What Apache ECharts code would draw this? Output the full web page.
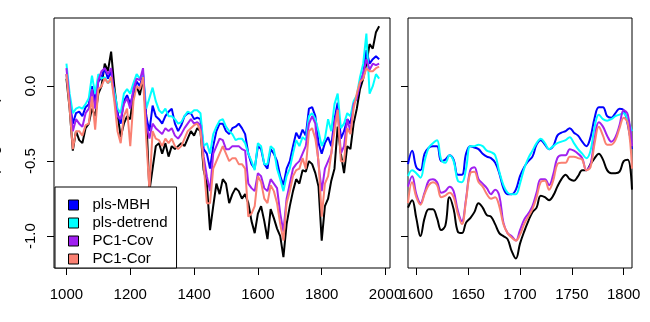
<!DOCTYPE html>
<html>
<head>
<meta charset="utf-8">
<script src="https://cdn.jsdelivr.net/npm/echarts@6/dist/echarts.min.js"></script>
<style>
  html, body { margin: 0; padding: 0; background: #fff; }
  #chart { width: 650px; height: 322px; }
</style>
</head>
<body>
<div id="chart"></div>
<script>
// ---- Full reconstruction period (decadal values, deg C) ----
const leftYears = [1000,1010,1020,1030,1040,1050,1060,1070,1080,1090,
  1100,1110,1120,1130,1140,1150,1160,1170,1180,1190,
  1200,1210,1220,1230,1240,1250,1260,1270,1280,1290,
  1300,1310,1320,1330,1340,1350,1360,1370,1380,1390,
  1400,1410,1420,1430,1440,1450,1460,1470,1480,1490,
  1500,1510,1520,1530,1540,1550,1560,1570,1580,1590,
  1600,1610,1620,1630,1640,1650,1660,1670,1680,1690,
  1700,1710,1720,1730,1740,1750,1760,1770,1780,1790,
  1800,1810,1820,1830,1840,1850,1860,1870,1880,1890,
  1900,1910,1920,1930,1940,1950,1960,1970,1980];

const leftObs = [0.05,-0.15,-0.43,-0.30,-0.36,-0.38,-0.28,-0.25,-0.15,-0.20,
  -0.05,0.00,0.15,0.10,0.23,0.00,-0.18,-0.34,-0.25,-0.20,
  -0.22,-0.05,0.00,-0.06,0.05,-0.20,-0.70,-0.55,-0.40,-0.38,
  -0.45,-0.38,-0.47,-0.40,-0.42,-0.40,-0.38,-0.40,-0.35,-0.30,
  -0.33,-0.28,-0.30,-0.56,-0.65,-0.96,-0.80,-0.65,-0.72,-0.62,
  -0.65,-0.78,-0.72,-0.68,-0.70,-0.75,-0.72,-0.78,-0.90,-0.98,
  -0.85,-0.80,-0.90,-1.02,-0.82,-0.88,-0.95,-1.00,-1.14,-0.92,
  -0.80,-0.70,-0.62,-0.65,-0.56,-0.57,-0.50,-0.52,-0.58,-0.67,
  -1.03,-0.80,-0.75,-0.63,-0.55,-0.27,-0.45,-0.58,-0.40,-0.42,
  -0.25,-0.15,-0.02,0.05,0.15,0.28,0.25,0.36,0.40];

const leftMBH = [0.08,-0.10,-0.25,-0.18,-0.17,-0.20,-0.14,-0.12,0.00,-0.10,
  0.03,0.06,0.12,0.05,0.10,-0.06,-0.18,-0.25,-0.10,-0.06,
  -0.12,-0.04,0.03,0.00,0.08,-0.20,-0.30,-0.13,-0.20,-0.22,
  -0.25,-0.20,-0.17,-0.15,-0.25,-0.30,-0.26,-0.20,-0.18,-0.18,
  -0.22,-0.21,-0.22,-0.42,-0.45,-0.55,-0.40,-0.30,-0.25,-0.25,
  -0.30,-0.32,-0.28,-0.27,-0.25,-0.28,-0.32,-0.45,-0.52,-0.55,
  -0.40,-0.42,-0.52,-0.55,-0.42,-0.45,-0.50,-0.60,-0.66,-0.55,
  -0.50,-0.40,-0.31,-0.35,-0.29,-0.33,-0.15,-0.14,-0.20,-0.38,
  -0.45,-0.38,-0.34,-0.40,-0.22,-0.11,-0.35,-0.30,-0.22,-0.25,
  -0.12,-0.08,0.02,0.08,0.24,0.15,0.18,0.20,0.18];

const leftDetrend = [0.15,-0.05,-0.18,-0.15,-0.14,-0.15,-0.12,-0.08,0.07,-0.05,
  0.08,0.05,0.06,0.02,0.04,-0.03,-0.15,-0.18,-0.05,-0.02,
  -0.05,0.02,0.08,0.05,0.09,-0.15,-0.08,-0.01,-0.10,-0.16,
  -0.18,-0.15,-0.20,-0.20,-0.22,-0.25,-0.24,-0.20,-0.17,-0.18,
  -0.16,-0.16,-0.18,-0.40,-0.38,-0.45,-0.32,-0.27,-0.23,-0.22,
  -0.27,-0.30,-0.32,-0.36,-0.35,-0.35,-0.38,-0.45,-0.50,-0.56,
  -0.38,-0.40,-0.52,-0.52,-0.40,-0.42,-0.55,-0.62,-0.70,-0.60,
  -0.55,-0.45,-0.36,-0.40,-0.34,-0.36,-0.20,-0.18,-0.22,-0.30,
  -0.40,-0.35,-0.22,-0.30,-0.12,-0.05,-0.28,-0.25,-0.18,-0.20,
  -0.10,-0.06,0.06,0.15,0.35,-0.05,0.00,0.08,0.05];

const leftPC1Cov = [0.12,-0.10,-0.30,-0.22,-0.25,-0.27,-0.18,-0.15,-0.02,-0.15,
  0.04,0.10,0.12,0.08,0.12,-0.08,-0.20,-0.22,-0.12,-0.08,
  -0.15,-0.02,0.05,0.04,0.12,-0.25,-0.35,-0.25,-0.28,-0.30,
  -0.32,-0.28,-0.30,-0.28,-0.33,-0.35,-0.32,-0.28,-0.25,-0.22,
  -0.25,-0.24,-0.26,-0.47,-0.60,-0.70,-0.45,-0.40,-0.35,-0.36,
  -0.42,-0.42,-0.40,-0.40,-0.40,-0.42,-0.43,-0.65,-0.68,-0.70,
  -0.58,-0.60,-0.68,-0.70,-0.62,-0.65,-0.68,-0.85,-0.97,-0.75,
  -0.65,-0.55,-0.52,-0.50,-0.45,-0.40,-0.25,-0.20,-0.25,-0.52,
  -0.70,-0.55,-0.50,-0.45,-0.25,-0.15,-0.45,-0.40,-0.22,-0.30,
  -0.12,-0.08,0.02,0.08,0.18,0.11,0.15,0.14,0.15];

const leftPC1Cor = [0.08,-0.15,-0.42,-0.30,-0.30,-0.33,-0.26,-0.25,-0.07,-0.29,
  -0.02,0.00,0.05,0.02,0.06,-0.10,-0.30,-0.38,-0.20,-0.15,
  -0.40,-0.10,0.00,-0.02,0.06,-0.35,-0.69,-0.30,-0.35,-0.36,
  -0.40,-0.35,-0.38,-0.35,-0.40,-0.42,-0.40,-0.35,-0.30,-0.28,
  -0.26,-0.25,-0.30,-0.52,-0.78,-0.78,-0.55,-0.50,-0.45,-0.40,
  -0.45,-0.50,-0.48,-0.48,-0.52,-0.52,-0.55,-0.87,-0.85,-0.80,
  -0.60,-0.64,-0.75,-0.78,-0.66,-0.70,-0.78,-0.92,-1.03,-0.78,
  -0.70,-0.60,-0.56,-0.55,-0.48,-0.55,-0.30,-0.28,-0.35,-0.50,
  -0.87,-0.65,-0.60,-0.45,-0.30,-0.16,-0.50,-0.50,-0.28,-0.32,
  -0.15,-0.05,0.03,0.05,0.12,0.10,0.10,0.12,0.13];

// ---- 1600-1800 detail (smoothed, 4-year spacing) ----
const rightYears = [1592,1596,1600,1604,1608,1612,1616,1620,1624,1628,
  1632,1636,1640,1644,1648,1652,1656,1660,1664,1668,
  1672,1676,1680,1684,1688,1692,1696,1700,1704,1708,
  1712,1716,1720,1724,1728,1732,1736,1740,1744,1748,
  1752,1756,1760,1764,1768,1772,1776,1780,1784,1788,
  1792,1796,1800,1804,1808];

const rightObs = [-0.81,-0.76,-0.88,-1.00,-0.88,-0.82,-0.82,-0.88,-0.96,-0.93,
  -0.74,-0.82,-0.97,-0.98,-0.91,-0.88,-0.84,-0.78,-0.81,-0.86,
  -0.87,-0.92,-0.98,-1.00,-1.02,-1.10,-1.15,-1.05,-0.97,-0.90,
  -0.84,-0.81,-0.73,-0.74,-0.76,-0.73,-0.67,-0.62,-0.59,-0.62,
  -0.63,-0.60,-0.56,-0.56,-0.52,-0.48,-0.45,-0.49,-0.56,-0.58,
  -0.58,-0.57,-0.50,-0.49,-0.69];

const rightMBH = [-0.52,-0.43,-0.54,-0.56,-0.45,-0.41,-0.40,-0.40,-0.50,-0.49,
  -0.46,-0.49,-0.59,-0.59,-0.45,-0.40,-0.41,-0.42,-0.45,-0.47,
  -0.48,-0.51,-0.58,-0.68,-0.72,-0.72,-0.69,-0.60,-0.54,-0.50,
  -0.47,-0.39,-0.36,-0.39,-0.42,-0.40,-0.33,-0.31,-0.30,-0.28,
  -0.31,-0.33,-0.37,-0.40,-0.34,-0.21,-0.14,-0.14,-0.20,-0.21,
  -0.18,-0.15,-0.16,-0.26,-0.42];

const rightDetrend = [-0.60,-0.56,-0.58,-0.61,-0.50,-0.41,-0.38,-0.36,-0.49,-0.51,
  -0.46,-0.50,-0.63,-0.64,-0.55,-0.40,-0.40,-0.39,-0.40,-0.43,
  -0.44,-0.46,-0.57,-0.66,-0.71,-0.72,-0.72,-0.65,-0.55,-0.48,
  -0.43,-0.38,-0.35,-0.38,-0.42,-0.40,-0.38,-0.37,-0.36,-0.34,
  -0.38,-0.42,-0.45,-0.48,-0.43,-0.27,-0.19,-0.22,-0.23,-0.22,
  -0.20,-0.19,-0.18,-0.23,-0.30];

const rightPC1Cov = [-0.67,-0.60,-0.72,-0.78,-0.71,-0.63,-0.62,-0.64,-0.71,-0.70,
  -0.67,-0.70,-0.83,-0.90,-0.75,-0.56,-0.54,-0.62,-0.65,-0.68,
  -0.72,-0.69,-0.73,-0.91,-0.98,-1.00,-1.03,-0.96,-0.89,-0.85,
  -0.80,-0.71,-0.62,-0.62,-0.66,-0.59,-0.48,-0.46,-0.46,-0.42,
  -0.43,-0.45,-0.48,-0.56,-0.52,-0.35,-0.24,-0.27,-0.33,-0.37,
  -0.34,-0.26,-0.16,-0.19,-0.40];

const rightPC1Cor = [-0.78,-0.64,-0.74,-0.79,-0.72,-0.66,-0.64,-0.66,-0.74,-0.73,
  -0.71,-0.74,-0.85,-0.92,-0.76,-0.58,-0.57,-0.64,-0.67,-0.72,
  -0.75,-0.74,-0.80,-0.92,-0.98,-1.01,-1.03,-0.99,-0.92,-0.87,
  -0.82,-0.74,-0.64,-0.63,-0.69,-0.63,-0.52,-0.51,-0.51,-0.47,
  -0.47,-0.48,-0.49,-0.56,-0.54,-0.38,-0.27,-0.33,-0.39,-0.39,
  -0.36,-0.28,-0.21,-0.25,-0.55];

// ---- axis ticks ----
const leftTicks = [1000, 1200, 1400, 1600, 1800, 2000];
const rightTicks = [1600, 1650, 1700, 1750, 1800];
const yTicks = [-1.0, -0.5, 0.0];

const seriesDefs = [
  { name: 'Instrumental', color: '#000000', left: leftObs, right: rightObs },
  { name: 'pls-MBH', color: '#0000FF', left: leftMBH, right: rightMBH },
  { name: 'pls-detrend', color: '#00FFFF', left: leftDetrend, right: rightDetrend },
  { name: 'PC1-Cov', color: '#A020F0', left: leftPC1Cov, right: rightPC1Cov },
  { name: 'PC1-Cor', color: '#FA8072', left: leftPC1Cor, right: rightPC1Cor }
];

const FONT = 'Liberation Sans, Arial, Helvetica, sans-serif';
const YMIN = -1.2126, YMAX = 0.4545;

function xAxisCfg(grid, min, max, ticks) {
  return {
    gridIndex: grid, type: 'value', min: min, max: max, position: 'bottom',
    axisLine: { show: false, onZero: false },
    splitLine: { show: false },
    axisTick: { show: true, inside: false, length: 7, customValues: ticks,
      lineStyle: { color: '#000', width: 1 } },
    axisLabel: { show: true, customValues: ticks, margin: 19, color: '#000',
      fontSize: 15, fontFamily: FONT, formatter: v => String(v) }
  };
}
function yAxisCfg(grid, showLabels) {
  return {
    gridIndex: grid, type: 'value', min: YMIN, max: YMAX, position: 'left',
    axisLine: { show: false, onZero: false },
    splitLine: { show: false },
    axisTick: { show: true, inside: false, length: 7, customValues: yTicks,
      lineStyle: { color: '#000', width: 1 } },
    axisLabel: { show: showLabels, customValues: yTicks, rotate: 90, margin: 16,
      color: '#000', fontSize: 15, fontFamily: FONT,
      formatter: v => v.toFixed(1) }
  };
}

const series = [];
seriesDefs.forEach(d => {
  series.push({
    name: d.name, type: 'line', xAxisIndex: 0, yAxisIndex: 0,
    data: leftYears.map((y, i) => [y, d.left[i]]),
    showSymbol: false, symbol: 'none', smooth: false,
    lineStyle: { color: d.color, width: 2 }, itemStyle: { color: d.color },
    animation: false, silent: true
  });
});
seriesDefs.forEach(d => {
  series.push({
    name: d.name, type: 'line', xAxisIndex: 1, yAxisIndex: 1,
    data: rightYears.map((y, i) => [y, d.right[i]]),
    showSymbol: false, symbol: 'none', smooth: 0.4,
    lineStyle: { color: d.color, width: 2 }, itemStyle: { color: d.color },
    animation: false, silent: true
  });
});

const chart = echarts.init(document.getElementById('chart'), null, { renderer: 'canvas' });
chart.setOption({
  backgroundColor: '#ffffff',
  animation: false,
  grid: [
    { left: 54, top: 18, width: 336, height: 250, show: true, borderColor: '#000', borderWidth: 1, backgroundColor: 'transparent' },
    { left: 408, top: 18, width: 224, height: 250, show: true, borderColor: '#000', borderWidth: 1, backgroundColor: 'transparent' }
  ],
  xAxis: [ xAxisCfg(0, 961, 2014, leftTicks), xAxisCfg(1, 1592, 1808, rightTicks) ],
  yAxis: [ yAxisCfg(0, true), yAxisCfg(1, false) ],
  legend: {
    data: ['pls-MBH', 'pls-detrend', 'PC1-Cov', 'PC1-Cor'],
    orient: 'vertical', left: 55, top: 187,
    padding: [9, 9, 0, 13], itemGap: 0,
    itemWidth: 10, itemHeight: 10, icon: 'rect',
    itemStyle: { borderColor: '#000', borderWidth: 1 },
    backgroundColor: '#ffffff', borderColor: '#000', borderWidth: 1, borderRadius: 0,
    textStyle: { color: '#000', fontSize: 15, fontFamily: FONT, lineHeight: 18, padding: [0, 0, 0, 9] },
    selectedMode: false
  },
  graphic: [{
    type: 'text', x: 1, y: 143, rotation: Math.PI / 2, silent: true,
    style: { text: 'T (degrees C)', font: '15px ' + FONT, fill: '#000',
      textAlign: 'center', textVerticalAlign: 'bottom' }
  }],
  series: series
});
</script>
</body>
</html>
